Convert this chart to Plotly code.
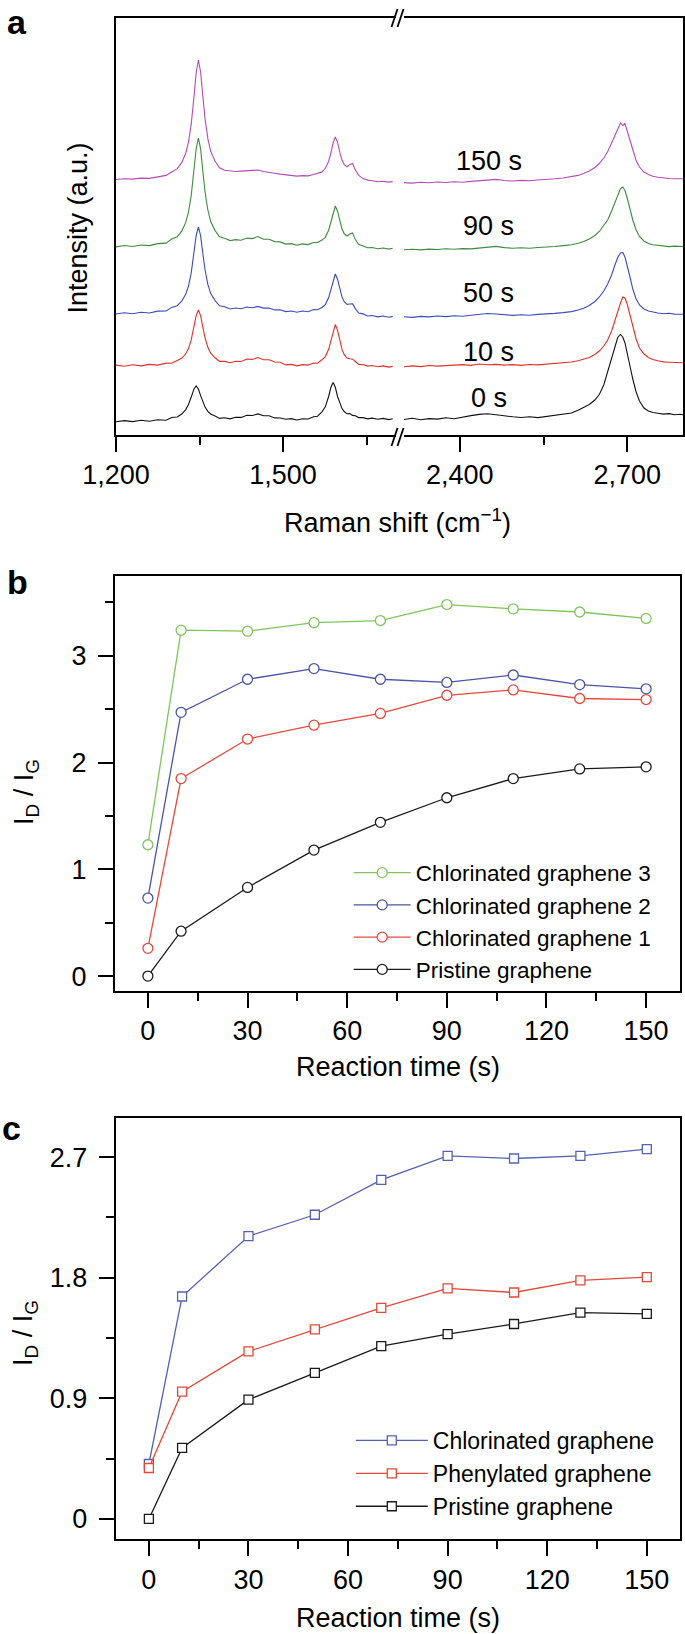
import plotly.graph_objects as go

W, H = 685, 1634
FONT = "Liberation Sans, Arial, Helvetica, sans-serif"

# ---------------- Panel a: Raman spectra (intensity in a.u., offset stacked) ----------------
wn_left = [1200, 1215, 1230, 1245, 1260, 1275, 1290, 1300, 1310, 1318, 1325, 1330, 1335, 1340, 1344,
           1348, 1352, 1356, 1360, 1365, 1370, 1378, 1386, 1395, 1405, 1415, 1425, 1435, 1445, 1455,
           1465, 1475, 1485, 1495, 1505, 1515, 1525, 1535, 1545, 1555, 1562, 1570, 1576, 1582, 1586,
           1590, 1594, 1598, 1602, 1606, 1610, 1615, 1620, 1625, 1630, 1636, 1644, 1652, 1660, 1670,
           1680, 1690, 1697]
wn_right = [2300, 2315, 2330, 2345, 2360, 2375, 2390, 2405, 2420, 2435, 2450, 2465, 2480, 2495, 2510,
            2525, 2540, 2555, 2570, 2585, 2600, 2612, 2622, 2632, 2642, 2650, 2658, 2665, 2672, 2678,
            2683, 2688, 2692, 2696, 2700, 2705, 2710, 2716, 2722, 2730, 2738, 2746, 2755, 2765, 2775,
            2785, 2795, 2800]

spec_0s_left = [13.2, 14.4, 13.4, 14.8, 13.7, 15.3, 14.8, 17.5, 18.0, 21.0, 25.2, 30.2, 37.7, 46.0, 49.0,
                46.0, 39.4, 32.9, 27.9, 23.7, 21.0, 19.0, 16.6, 17.2, 16.1, 17.8, 17.6, 19.8, 19.5, 21.1,
                19.3, 19.3, 17.1, 17.0, 15.7, 16.4, 15.0, 16.3, 16.0, 18.2, 18.8, 23.2, 28.2, 38.5, 47.7,
                52.5, 47.7, 38.5, 31.5, 26.4, 23.5, 21.2, 21.4, 19.6, 19.2, 17.4, 17.4, 16.1, 16.9, 15.7,
                16.6, 15.4, 16.2]
spec_0s_right = [15.5, 16.8, 15.2, 16.4, 15.9, 17.2, 16.3, 18.1, 19.4, 20.6, 21.2, 20.3, 19.1, 18.2, 17.5,
                 18.3, 17.4, 18.6, 19.1, 20.4, 22.0, 24.8, 27.5, 30.5, 35.0, 40.5, 50.0, 63.0, 76.0, 89.0,
                 97.5, 100.5, 98.0, 92.0, 83.0, 69.0, 56.0, 43.0, 34.0, 27.0, 24.0, 22.5, 21.8, 20.9, 21.4,
                 20.3, 20.8, 20.2]

spec_10s_left = [69.9, 68.8, 70.2, 69.1, 70.6, 69.9, 71.9, 71.8, 74.6, 76.7, 81.0, 86.2, 94.8, 107.8, 119.4,
                 125.0, 119.4, 107.8, 97.0, 87.7, 81.8, 77.2, 73.6, 73.6, 72.2, 73.8, 73.5, 76.0, 75.6, 77.4,
                 75.3, 75.3, 73.0, 72.8, 70.1, 70.6, 69.1, 70.4, 69.9, 71.9, 71.8, 75.2, 78.4, 85.7, 94.1,
                 104.7, 110.5, 104.7, 93.9, 85.6, 80.4, 77.0, 76.2, 75.8, 73.5, 70.5, 70.4, 68.9, 69.5, 68.2,
                 69.1, 67.9, 68.6]
spec_10s_right = [68.3, 69.1, 68.4, 69.5, 68.9, 69.6, 69.8, 70.4, 69.6, 71.0, 70.2, 70.6, 69.9, 70.4, 69.6,
                  70.5, 70.1, 70.9, 71.3, 72.0, 73.0, 74.2, 75.6, 77.5, 80.5, 84.0, 89.0, 95.0, 104.0, 115.0,
                  124.0, 132.0, 138.0, 137.0, 131.0, 120.0, 108.0, 96.0, 87.0, 81.0, 77.5, 75.5, 74.2, 73.1,
                  72.8, 72.3, 71.9, 72.2]

spec_50s_left = [121.0, 122.3, 121.3, 122.8, 122.0, 123.9, 124.0, 127.6, 129.3, 133.9, 140.4, 148.5, 161.6,
                 181.5, 199.4, 208.0, 199.4, 181.5, 165.0, 150.6, 141.7, 134.4, 129.2, 128.2, 126.0, 127.0,
                 126.2, 128.0, 127.3, 128.6, 126.9, 127.0, 125.1, 125.2, 123.4, 124.0, 122.7, 124.0, 123.3,
                 125.4, 125.3, 127.5, 130.4, 137.4, 145.4, 155.5, 161.0, 155.8, 145.9, 138.1, 133.3, 130.6,
                 131.0, 131.1, 126.4, 122.0, 121.1, 119.0, 119.5, 118.1, 119.0, 117.8, 118.6]
spec_50s_right = [118.2, 117.6, 118.6, 118.1, 119.0, 118.4, 119.3, 118.8, 119.7, 120.3, 121.5, 121.0, 120.2,
                  119.6, 120.3, 119.8, 120.6, 120.9, 121.6, 122.4, 123.4, 125.0, 126.8, 129.5, 133.5, 138.0,
                  144.0, 151.0, 160.0, 170.0, 177.5, 182.0, 182.5, 178.0, 170.0, 158.0, 146.0, 136.0, 130.0,
                  126.0, 124.0, 122.8, 122.0, 121.3, 121.7, 120.9, 121.2, 120.8]

spec_90s_left = [188.1, 189.5, 188.5, 190.0, 189.4, 191.4, 191.9, 195.9, 198.2, 203.9, 212.1, 222.3, 238.7,
                 263.7, 286.2, 297.0, 286.2, 263.7, 243.0, 225.0, 213.7, 204.4, 198.2, 196.8, 194.4, 195.4,
                 194.8, 196.9, 196.4, 198.5, 195.8, 195.8, 193.4, 193.1, 190.9, 191.4, 189.8, 191.1, 190.4,
                 192.5, 192.5, 194.9, 197.7, 204.8, 213.0, 223.3, 229.0, 223.8, 213.8, 205.9, 201.2, 199.0,
                 200.9, 202.1, 195.4, 190.4, 189.0, 187.2, 187.5, 186.2, 187.0, 185.9, 186.7]
spec_90s_right = [185.2, 185.8, 185.1, 185.9, 185.5, 186.2, 185.7, 186.4, 186.1, 187.0, 188.2, 188.6, 187.4,
                  186.8, 187.3, 186.7, 187.5, 187.8, 188.5, 189.4, 190.3, 191.8, 193.5, 196.0, 199.5, 203.5,
                  209.0, 215.0, 224.0, 233.0, 240.5, 246.5, 248.0, 244.5, 237.0, 226.0, 215.0, 205.0, 198.5,
                  194.0, 191.5, 190.2, 189.5, 189.0, 188.4, 188.9, 188.2, 188.5]

spec_150s_left = [255.5, 256.3, 255.9, 256.9, 256.6, 258.4, 259.6, 263.0, 266.4, 272.3, 281.3, 292.3, 310.3,
                  337.7, 362.0, 375.0, 363.0, 338.7, 316.0, 296.3, 284.0, 273.8, 267.2, 264.7, 264.0, 263.5,
                  263.9, 264.3, 264.4, 265.0, 263.5, 263.0, 261.8, 260.9, 260.3, 259.2, 258.9, 259.4, 259.1,
                  260.5, 261.6, 263.1, 266.7, 273.8, 282.0, 292.3, 298.0, 292.7, 282.6, 274.9, 270.4, 268.3,
                  270.6, 271.5, 264.9, 259.6, 256.4, 254.9, 254.3, 253.2, 253.8, 252.9, 253.4]
spec_150s_right = [252.4, 251.9, 252.7, 252.3, 253.0, 252.5, 253.2, 252.8, 253.6, 254.1, 255.2, 255.6, 254.5,
                   254.0, 254.6, 254.2, 255.0, 255.4, 256.2, 257.0, 258.2, 259.6, 261.4, 264.0, 267.5, 271.5,
                   277.0, 283.5, 292.0, 300.0, 306.5, 312.0, 309.5, 311.5, 304.0, 294.0, 284.0, 274.5, 268.0,
                   263.0, 260.5, 258.8, 257.8, 257.0, 256.5, 256.2, 255.9, 256.2]

spectrum_labels = ["0 s", "10 s", "50 s", "90 s", "150 s"]
spectrum_label_y = [37, 83, 142, 209, 274]
spectrum_label_x = 2452
spectrum_colors = ["#111111", "#e0312b", "#3b4cb8", "#3e8a3e", "#b34db3"]

# ---------------- Panel b ----------------
time_s = [0, 10, 30, 50, 70, 90, 110, 130, 150]
b_chlorinated_3 = [1.23, 3.24, 3.23, 3.31, 3.33, 3.48, 3.44, 3.41, 3.35]
b_chlorinated_2 = [0.73, 2.47, 2.78, 2.88, 2.78, 2.75, 2.82, 2.73, 2.69]
b_chlorinated_1 = [0.26, 1.85, 2.22, 2.35, 2.46, 2.63, 2.68, 2.60, 2.59]
b_pristine = [0.0, 0.42, 0.83, 1.18, 1.44, 1.67, 1.85, 1.94, 1.96]
b_names = ["Chlorinated graphene 3", "Chlorinated graphene 2", "Chlorinated graphene 1", "Pristine graphene"]
b_colors = ["#80c45c", "#4a55a5", "#e5483d", "#1a1a1a"]

# ---------------- Panel c ----------------
c_chlorinated = [0.41, 1.66, 2.11, 2.27, 2.53, 2.71, 2.69, 2.71, 2.76]
c_phenylated = [0.38, 0.95, 1.25, 1.415, 1.575, 1.72, 1.69, 1.78, 1.805]
c_pristine = [0.0, 0.53, 0.89, 1.09, 1.29, 1.38, 1.455, 1.54, 1.53]
c_names = ["Chlorinated graphene", "Phenylated graphene", "Pristine graphene"]
c_colors = ["#5462b0", "#e2493b", "#1a1a1a"]


def px(x):
    return x / W


def py(y):
    return 1 - y / H


fig = go.Figure()

left_sets = [spec_0s_left, spec_10s_left, spec_50s_left, spec_90s_left, spec_150s_left]
right_sets = [spec_0s_right, spec_10s_right, spec_50s_right, spec_90s_right, spec_150s_right]
for lbl, col, yl, yr in zip(spectrum_labels, spectrum_colors, left_sets, right_sets):
    fig.add_trace(go.Scatter(x=wn_left, y=yl, mode="lines", line=dict(color=col, width=1.1),
                             xaxis="x", yaxis="y", showlegend=False, name=lbl))
    fig.add_trace(go.Scatter(x=wn_right, y=yr, mode="lines", line=dict(color=col, width=1.1),
                             xaxis="x2", yaxis="y2", showlegend=False, name=lbl))

for name, col, vals in zip(b_names, b_colors, [b_chlorinated_3, b_chlorinated_2, b_chlorinated_1, b_pristine]):
    fig.add_trace(go.Scatter(x=time_s, y=vals, mode="lines+markers", name=name,
                             line=dict(color=col, width=1.3),
                             marker=dict(symbol="circle", size=10, color="white",
                                         line=dict(color=col, width=1.3)),
                             xaxis="x3", yaxis="y3", legend="legend"))

for name, col, vals in zip(c_names, c_colors, [c_chlorinated, c_phenylated, c_pristine]):
    fig.add_trace(go.Scatter(x=time_s, y=vals, mode="lines+markers", name=name,
                             line=dict(color=col, width=1.3),
                             marker=dict(symbol="square", size=9, color="white",
                                         line=dict(color=col, width=1.3)),
                             xaxis="x4", yaxis="y4", legend="legend2"))

tickfont = dict(family=FONT, size=27, color="black")
base_x = dict(showline=True, linewidth=2, linecolor="black", ticks="outside", ticklen=15, tickwidth=1.8,
              tickcolor="black", showgrid=False, zeroline=False, tickfont=tickfont, fixedrange=True,
              automargin=False)
base_y = dict(showline=True, linewidth=2, linecolor="black", showgrid=False, zeroline=False,
              tickfont=tickfont, fixedrange=True, automargin=False)

fig.update_layout(
    template="none",
    width=W, height=H, margin=dict(l=0, r=0, t=0, b=0, pad=0, autoexpand=False), autosize=False,
    paper_bgcolor="white", plot_bgcolor="white",
    font=dict(family=FONT, color="black"),
    xaxis=dict(base_x, domain=[px(116), px(396)], range=[1200, 1703], anchor="y", mirror=True,
               tick0=1200, dtick=300, tickformat=",",
               minor=dict(ticks="outside", ticklen=8, tickwidth=1.8, tickcolor="black", tick0=1200, dtick=150)),
    xaxis2=dict(base_x, domain=[px(404), px(683)], range=[2300, 2800], anchor="y2", mirror=True,
                tick0=2400, dtick=300, tickformat=",",
                minor=dict(ticks="outside", ticklen=8, tickwidth=1.8, tickcolor="black", tick0=2400, dtick=150)),
    yaxis=dict(base_y, domain=[py(435), py(18)], range=[0, 417], anchor="x", showticklabels=False, ticks=""),
    yaxis2=dict(base_y, domain=[py(435), py(18)], range=[0, 417], anchor="x2", side="right",
                showticklabels=False, ticks=""),
    xaxis3=dict(base_x, domain=[px(115), px(680)], range=[-9.9, 160.2], anchor="y3", mirror=True,
                tick0=0, dtick=30,
                minor=dict(ticks="outside", ticklen=8, tickwidth=1.8, tickcolor="black", tick0=0, dtick=15)),
    yaxis3=dict(base_y, domain=[py(991), py(575.7)], range=[-0.14, 3.75], anchor="x3", mirror=True,
                ticks="outside", ticklen=15, tickwidth=1.8, tickcolor="black", tick0=0, dtick=1,
                ticklabelstandoff=6,
                minor=dict(ticks="outside", ticklen=8, tickwidth=1.8, tickcolor="black", tick0=0, dtick=0.5)),
    xaxis4=dict(base_x, domain=[px(115.7), px(680)], range=[-10, 160], anchor="y4", mirror=True,
                tick0=0, dtick=30,
                minor=dict(ticks="outside", ticklen=8, tickwidth=1.8, tickcolor="black", tick0=0, dtick=15)),
    yaxis4=dict(base_y, domain=[py(1539.3), py(1118.3)], range=[-0.152, 2.99], anchor="x4", mirror=True,
                ticks="outside", ticklen=15, tickwidth=1.8, tickcolor="black", tick0=0, dtick=0.9,
                ticklabelstandoff=6,
                minor=dict(ticks="outside", ticklen=8, tickwidth=1.8, tickcolor="black", tick0=0, dtick=0.45)),
    legend=dict(x=px(348.7), y=py(851.5), xanchor="left", yanchor="top", itemwidth=57,
                font=dict(family=FONT, size=22.5, color="black"), bgcolor="rgba(0,0,0,0)", borderwidth=0,
                tracegroupgap=0, traceorder="normal"),
    legend2=dict(x=px(350.8), y=py(1419), xanchor="left", yanchor="top", itemwidth=72,
                 font=dict(family=FONT, size=23, color="black"), bgcolor="rgba(0,0,0,0)", borderwidth=0,
                 tracegroupgap=0, traceorder="normal"),
)

ann = []
for lbl, yv in zip(spectrum_labels, spectrum_label_y):
    ann.append(dict(x=spectrum_label_x, y=yv, xref="x2", yref="y2", text=lbl, showarrow=False,
                    font=dict(family=FONT, size=27, color="black"), xanchor="center", yanchor="middle"))


def pa(text, x, y, size=27, angle=0, bold=False, xanchor="center"):
    t = "<b>%s</b>" % text if bold else text
    return dict(x=px(x), y=py(y), xref="paper", yref="paper", text=t, showarrow=False, textangle=angle,
                font=dict(family=FONT, size=size, color="black"), xanchor=xanchor, yanchor="middle")


ann += [
    pa("a", 5, 22, size=34, bold=True, xanchor="left"),
    pa("b", 5, 582, size=34, bold=True, xanchor="left"),
    pa("c", 0, 1128, size=34, bold=True, xanchor="left"),
    pa("Intensity (a.u.)", 77.5, 228, angle=-90),
    pa("Raman shift (cm<sup>\u22121</sup>)", 397.5, 521),
    pa("I<sub>D</sub> / I<sub>G</sub>", 26, 792, angle=-90),
    pa("Reaction time (s)", 397.5, 1067),
    pa("I<sub>D</sub> / I<sub>G</sub>", 25, 1333, angle=-90),
    pa("Reaction time (s)", 397.5, 1618),
]
fig.update_layout(annotations=ann)

# axis break marks (//) on the broken Raman-shift axis
shapes = []
for (y0, y1) in [(27, 9), (446, 428)]:
    for x0 in (391.5, 397.5):
        shapes.append(dict(type="line", xref="paper", yref="paper", x0=px(x0), y0=py(y0),
                           x1=px(x0 + 6), y1=py(y1), line=dict(color="black", width=1.8)))
fig.update_layout(shapes=shapes)

fig.write_html("out.html", config={"displayModeBar": False},
               post_script="document.body.style.margin='0';document.body.style.padding='0';"
                           "document.documentElement.style.overflow='hidden';")
